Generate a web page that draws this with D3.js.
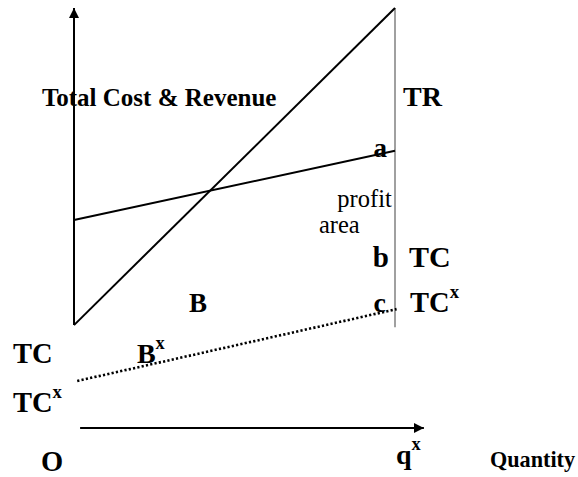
<!DOCTYPE html>
<html>
<head>
<meta charset="utf-8">
<script src="https://cdn.jsdelivr.net/npm/d3@7/dist/d3.min.js"></script>
<style>
  html, body { margin: 0; padding: 0; background: #fff; }
  svg text { font-family: "Liberation Serif", "Times New Roman", serif; fill: #000; }
</style>
</head>
<body>
<svg id="chart" width="578" height="477"></svg>
<script>
// ---- data (conceptual break-even diagram, in chart units) ----
const quantity = [0, 10];              // O .. q^x
const revenueTR = [24.5, 100];         // total revenue at O and q^x
const totalCostTC = [49.5, 66];        // total cost at O and q^x
const quantityX = [0.1, 10.05];
const totalCostX = [11.2, 28.3];       // reduced total cost TC^x
const yAxisRange = [24.5, 100];
const xAxisRange = [0.19, 10.9];
const profitLine = [24, 100];          // vertical line at q^x

const labels = [
  {t: "Total Cost & Revenue", x: -1.0, y: 76.7, bold: true, size: 25},
  {t: "TR", x: 10.25, y: 76.7, bold: true, size: 28},
  {t: "a", x: 9.33, y: 64.6, bold: true, size: 27},
  {t: "profit", x: 9.9, y: 52.6, bold: false, size: 24.5, anchor: "end"},
  {t: "area", x: 7.63, y: 46.4, bold: false, size: 24.5},
  {t: "b", x: 9.31, y: 38.3, bold: true, size: 29},
  {t: "TC", x: 10.44, y: 38.3, bold: true, size: 30},
  {t: "c", x: 9.33, y: 27.6, bold: true, size: 28},
  {t: "TC", sup: "x", x: 10.47, y: 27.6, bold: true, size: 28.5},
  {t: "B", x: 3.58, y: 27.6, bold: true, size: 27},
  {t: "TC", x: -1.9, y: 15.5, bold: true, size: 28.5},
  {t: "B", sup: "x", x: 1.96, y: 15.5, bold: true, size: 28},
  {t: "TC", sup: "x", x: -1.9, y: 3.8, bold: true, size: 28.5},
  {t: "O", x: -1.03, y: -10.2, bold: true, size: 28.5},
  {t: "q", sup: "x", x: 10.03, y: -8.6, bold: true, size: 28},
  {t: "Quantity", x: 12.96, y: -9.3, bold: true, size: 22.2}
];

// ---- drawing ----
const svg = d3.select("#chart");
const x = d3.scaleLinear().domain([0, 10]).range([74, 395]);
const y = d3.scaleLinear().domain([0, 100]).range([428, 8]);

const defs = svg.append("defs");
defs.append("marker").attr("id", "arrow")
  .attr("viewBox", "0 0 10 10").attr("refX", 10).attr("refY", 5)
  .attr("markerWidth", 10).attr("markerHeight", 10)
  .attr("markerUnits", "userSpaceOnUse").attr("orient", "auto")
  .append("path").attr("d", "M0,0 L10,5 L0,10 Z").attr("fill", "#000");

const line = d3.line().x(d => x(d[0])).y(d => y(d[1]));

// vertical line at q^x
svg.append("path")
  .attr("d", line(profitLine.map(v => [quantity[1], v])))
  .attr("stroke", "#808080").attr("stroke-width", 1.5).attr("fill", "none");

// y axis
svg.append("path")
  .attr("d", line(yAxisRange.map(v => [quantity[0], v])))
  .attr("stroke", "#000").attr("stroke-width", 2).attr("fill", "none")
  .attr("marker-end", "url(#arrow)");

// x axis
svg.append("path")
  .attr("d", line(xAxisRange.map(v => [v, 0])))
  .attr("stroke", "#000").attr("stroke-width", 2).attr("fill", "none")
  .attr("marker-end", "url(#arrow)");

// TR
svg.append("path")
  .attr("d", line(quantity.map((q, i) => [q, revenueTR[i]])))
  .attr("stroke", "#000").attr("stroke-width", 2).attr("fill", "none");

// TC
svg.append("path")
  .attr("d", line(quantity.map((q, i) => [q, totalCostTC[i]])))
  .attr("stroke", "#000").attr("stroke-width", 2).attr("fill", "none");

// TC^x dotted
svg.append("path")
  .attr("d", line(quantityX.map((q, i) => [q, totalCostX[i]])))
  .attr("stroke", "#000").attr("stroke-width", 2.6).attr("fill", "none")
  .attr("stroke-dasharray", "2.2,2.2");

// labels
labels.forEach(l => {
  const t = svg.append("text")
    .attr("x", x(l.x)).attr("y", y(l.y))
    .attr("font-size", l.size + "px")
    .attr("font-weight", l.bold ? "bold" : "normal")
    .attr("text-anchor", l.anchor || "start")
    .text(l.t);
  if (l.sup) {
    t.append("tspan").attr("dy", -l.size * 0.5)
      .attr("font-size", (l.size * 0.66) + "px").text(l.sup);
  }
});
</script>
</body>
</html>
